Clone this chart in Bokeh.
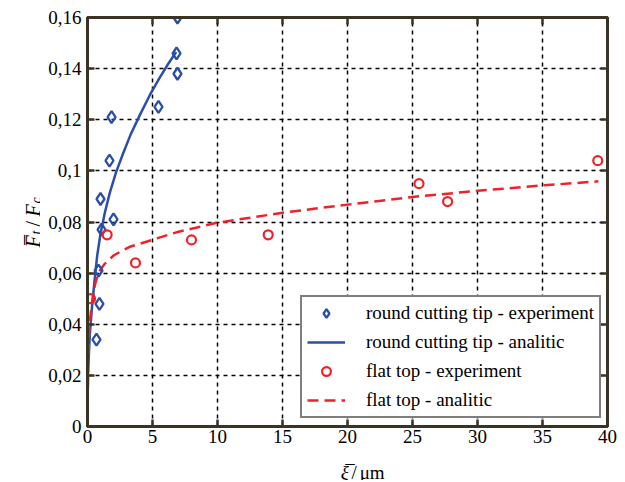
import math
from bokeh.plotting import figure
from bokeh.layouts import row, column
from bokeh.models import LinearAxis, FixedTicker, Legend, LegendItem, Range1d, Label
from bokeh.embed import file_html
from bokeh.resources import INLINE

# ---- data ----
round_exp_x = [6.92, 6.85, 6.92, 5.46, 1.85, 1.69, 1.00, 2.00, 1.08, 0.85, 0.92, 0.69]
round_exp_y = [0.160, 0.146, 0.138, 0.125, 0.121, 0.104, 0.089, 0.081, 0.077, 0.061, 0.048, 0.034]

flat_exp_x = [0.23, 1.51, 3.69, 8.00, 13.9, 25.5, 27.7, 39.25]
flat_exp_y = [0.050, 0.075, 0.064, 0.073, 0.075, 0.095, 0.088, 0.104]

round_an_x = [0.01, 0.05, 0.18, 0.35, 0.54, 0.75, 1.00, 1.35, 1.72, 2.2, 2.7, 3.3, 4.08, 4.8, 5.5, 6.2, 6.82]
round_an_y = [0.011, 0.022, 0.036, 0.047, 0.057, 0.067, 0.0754, 0.084, 0.0915, 0.0995, 0.1063, 0.114, 0.1224, 0.1297, 0.136, 0.1418, 0.1465]

flat_an_x = [0.01, 0.05, 0.15, 0.36, 0.6, 0.87, 1.3, 2.03, 3.2, 4.97, 7.0, 9.97, 15.0, 20.0, 25.0, 30.0, 35.0, 39.3]
flat_an_y = [0.008, 0.025, 0.040, 0.049, 0.056, 0.0604, 0.0635, 0.067, 0.0702, 0.0730, 0.0762, 0.0797, 0.0836, 0.0868, 0.0898, 0.0922, 0.0943, 0.0959]

x_ticks = [0, 5, 10, 15, 20, 25, 30, 35, 40]
x_tick_labels = ["0", "5", "10", "15", "20", "25", "30", "35", "40"]
y_ticks = [0, 0.02, 0.04, 0.06, 0.08, 0.1, 0.12, 0.14, 0.16]
y_tick_labels = ["0", "0,02", "0,04", "0,06", "0,08", "0,1", "0,12", "0,14", "0,16"]

legend_labels = ["round cutting tip - experiment", "round cutting tip - analitic",
                 "flat top - experiment", "flat top - analitic"]

BLUE = "#2b4fa8"
RED = "#ee2229"
AXIS = "#3a3424"
FONT = "Liberation Serif"

LEFT_W = 40
MAIN_W = 577
MAIN_H = 451
TOTAL_H = 480
BOT_H = TOTAL_H - MAIN_H

p = figure(width=MAIN_W, height=MAIN_H, x_range=Range1d(0, 40), y_range=Range1d(0, 0.16),
           output_backend="svg", toolbar_location=None,
           min_border_left=87 - LEFT_W, min_border_right=10, min_border_top=17,
           min_border_bottom=MAIN_H - 17 - 409)
p.background_fill_color = "white"
p.border_fill_color = "white"
p.outline_line_color = AXIS
p.outline_line_width = 3

xt = FixedTicker(ticks=x_ticks)
yt = FixedTicker(ticks=y_ticks)

def style_axis(ax, labels=True):
    ax.axis_line_color = AXIS
    ax.axis_line_width = 3
    ax.major_tick_line_color = AXIS
    ax.major_tick_line_width = 2.5
    ax.major_tick_in = 7
    ax.major_tick_out = 0
    ax.minor_tick_line_color = None
    ax.major_label_text_font = FONT
    ax.major_label_text_font_size = "19px"
    ax.major_label_text_color = "black"
    ax.major_label_standoff = 3
    if not labels:
        ax.major_label_text_font_size = "1px"
        ax.major_label_text_color = None
        ax.major_label_standoff = 0

for ax in p.xaxis:
    ax.ticker = xt
    ax.major_label_overrides = dict(zip(x_ticks, x_tick_labels))
    style_axis(ax)
for ax in p.yaxis:
    ax.ticker = yt
    ax.major_label_overrides = dict(zip(y_ticks, y_tick_labels))
    style_axis(ax)
    ax.major_label_standoff = 6

top_ax = LinearAxis(ticker=xt)
right_ax = LinearAxis(ticker=yt)
style_axis(top_ax, labels=False)
style_axis(right_ax, labels=False)
p.add_layout(top_ax, "above")
p.add_layout(right_ax, "right")

p.xgrid.ticker = xt
p.ygrid.ticker = yt
for g in (p.xgrid[0], p.ygrid[0]):
    g.grid_line_color = "black"
    g.grid_line_width = 1.5
    g.grid_line_dash = "4 4"

r_ra = p.line(round_an_x, round_an_y, line_color=BLUE, line_width=2.5)
r_fa = p.line(flat_an_x, flat_an_y, line_color=RED, line_width=2.5, line_dash="11 6")
r_re = p.scatter(round_exp_x, round_exp_y, marker="diamond", size=12,
                 fill_color=None, line_color=BLUE, line_width=2.3)
r_fe = p.scatter(flat_exp_x, flat_exp_y, marker="circle", size=9,
                 fill_color=None, line_color=RED, line_width=2.2)

legend = Legend(items=[LegendItem(label=legend_labels[0], renderers=[r_re]),
                       LegendItem(label=legend_labels[1], renderers=[r_ra]),
                       LegendItem(label=legend_labels[2], renderers=[r_fe]),
                       LegendItem(label=legend_labels[3], renderers=[r_fa])],
                location=(213, 8))
legend.label_text_font = FONT
legend.label_text_font_size = "19px"
legend.label_text_color = "black"
legend.border_line_color = "black"
legend.border_line_width = 2
legend.background_fill_alpha = 1
legend.padding = 5
legend.spacing = 7
legend.glyph_height = 22
legend.label_height = 22
legend.glyph_width = 38
legend.label_standoff = 21
legend.margin = 0
p.add_layout(legend, "center")

def strip(w, h):
    f = figure(width=w, height=h, x_range=Range1d(0, w), y_range=Range1d(0, h),
               output_backend="svg", toolbar_location=None, x_axis_type=None,
               y_axis_type=None, min_border=0, title=None)
    f.outline_line_color = None
    f.grid.visible = False
    return f

def txt(fig, text, x, y, size, italic, angle=0.0):
    fig.add_layout(Label(x=x, y=y, text=text, angle=angle, text_font=FONT,
                         text_font_size=size,
                         text_font_style="italic" if italic else "normal",
                         text_color="black", text_align="left",
                         text_baseline="alphabetic"))

# ---- y axis title (left strip) ----
yl = strip(LEFT_W, TOTAL_H)
A = math.pi / 2
txt(yl, "F\u0305", 32, TOTAL_H - 247, "20px", True, A)
txt(yl, "t", 36, TOTAL_H - 234, "14px", True, A)
txt(yl, "/", 32, TOTAL_H - 226, "20px", False, A)
txt(yl, "F", 32, TOTAL_H - 216, "20px", True, A)
txt(yl, "c", 36, TOTAL_H - 203, "14px", True, A)

# ---- x axis title (bottom strip) ----
xl = strip(MAIN_W, BOT_H)
txt(xl, "\u03be\u0305", 321 - LEFT_W, TOTAL_H - 472, "19px", True)
txt(xl, "/", 333 - LEFT_W, TOTAL_H - 472, "19px", False)
txt(xl, "\u03bcm", 342 - LEFT_W, TOTAL_H - 472, "19px", False)

layout = row(yl, column(p, xl))
open("out.html", "w").write(file_html(layout, INLINE))
